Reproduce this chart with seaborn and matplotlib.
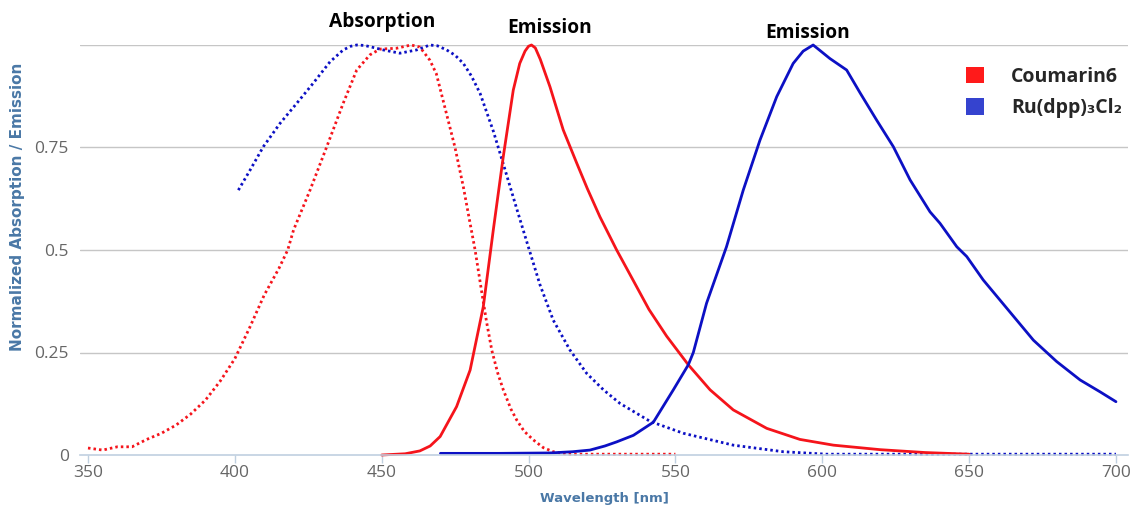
import matplotlib
matplotlib.use("Agg")
import matplotlib.pyplot as plt
from matplotlib.patches import Patch
import seaborn as sns

# Coumarin 6 absorption spectrum (nm, normalized)
coum_abs_wl = [350, 355, 360, 365, 370, 375, 380, 385, 390, 395, 400, 405, 410,
               415, 418, 420, 425.6, 431.3, 436.9, 441.5, 446, 449.4, 455, 460,
               463, 466.4, 468.6, 472, 474.9, 477.8, 480.1, 481.8, 484, 485.7,
               487.5, 489.5, 491.4, 494, 496, 498.5, 501.6, 505, 508.4, 513, 520,
               530, 540, 550]
coum_abs_val = [0.017, 0.012, 0.02, 0.02, 0.038, 0.053, 0.073, 0.10, 0.134, 0.18,
                0.235, 0.31, 0.39, 0.455, 0.5, 0.549, 0.646, 0.752, 0.858, 0.939,
                0.976, 0.99, 0.992, 1.0, 0.995, 0.963, 0.93, 0.834, 0.752, 0.654,
                0.565, 0.5, 0.4, 0.325, 0.255, 0.2, 0.159, 0.112, 0.085, 0.058,
                0.037, 0.018, 0.008, 0.002, 0.002, 0.002, 0.002, 0.002]

# Coumarin 6 emission spectrum
coum_em_wl = [450, 458, 463, 466.5, 469.9, 475.5, 480.1, 484.6, 488, 491.4, 494.8,
              497, 498.8, 500, 501, 502.3, 504, 507.3, 511.8, 516.4, 520, 524.3,
              530, 535.7, 541, 547, 554.4, 561.8, 569.7, 581.1, 592.4, 603.8,
              619.7, 635, 650]
coum_em_val = [0.0, 0.003, 0.01, 0.022, 0.045, 0.118, 0.207, 0.362, 0.549, 0.728,
               0.89, 0.955, 0.985, 0.997, 1.0, 0.993, 0.965, 0.898, 0.793, 0.712,
               0.65, 0.581, 0.5, 0.425, 0.355, 0.29, 0.22, 0.159, 0.11, 0.065,
               0.038, 0.024, 0.013, 0.006, 0.002]

# Ru(dpp)3Cl2 absorption spectrum
ru_abs_wl = [401.2, 405.2, 409.7, 415.4, 421.1, 426.7, 432.4, 436.9, 439.5, 441.5,
             444, 446, 450.5, 456.2, 461.9, 466.4, 469, 472.1, 475, 477.8, 480.5,
             483.5, 488, 491.4, 496, 499.4, 503.9, 508.4, 514.1, 519.8, 525.5,
             531.1, 541.4, 552.7, 569.7, 586.7, 601.5, 620, 650, 675, 700]
ru_abs_val = [0.646, 0.695, 0.752, 0.809, 0.858, 0.907, 0.959, 0.988, 0.997, 1.0,
              0.999, 0.996, 0.988, 0.98, 0.988, 1.0, 0.998, 0.988, 0.975, 0.955,
              0.925, 0.882, 0.79, 0.71, 0.6, 0.52, 0.415, 0.329, 0.256, 0.199,
              0.159, 0.126, 0.082, 0.053, 0.024, 0.008, 0.002, 0.002, 0.002,
              0.002, 0.002]

# Ru(dpp)3Cl2 emission spectrum
ru_em_wl = [470, 490, 507.3, 515, 520.9, 526, 530, 535.7, 542.5, 549.3, 554.4,
            556.1, 560.6, 567.4, 573.1, 578.8, 584.5, 590.1, 593.5, 596.9, 599.5,
            602.6, 608.3, 612.9, 618.5, 624.2, 629.9, 636.7, 640.1, 645.8, 649.2,
            654.8, 660.5, 666.2, 671.9, 679.8, 687.8, 694.6, 700]
ru_em_val = [0.004, 0.004, 0.005, 0.008, 0.012, 0.022, 0.032, 0.048, 0.08, 0.159,
             0.22, 0.25, 0.37, 0.508, 0.646, 0.768, 0.874, 0.955, 0.985, 1.0,
             0.985, 0.967, 0.939, 0.883, 0.817, 0.752, 0.671, 0.593, 0.565,
             0.508, 0.484, 0.427, 0.378, 0.329, 0.28, 0.228, 0.183, 0.154, 0.13]

legend_labels = ["Coumarin6", "Ru(dpp)\u2083Cl\u2082"]
peak_labels = ["Absorption", "Emission", "Emission"]
peak_pos = [(450.1, 1.056), (507.3, 1.041), (595.1, 1.029)]
x_ticks = [350, 400, 450, 500, 550, 600, 650, 700]
y_ticks = [0, 0.25, 0.5, 0.75, 1.0]
y_tick_labels = ["0", "0.25", "0.5", "0.75", ""]

sns.set_theme(style="white")
plt.rcParams["font.family"] = ["Open Sans", "DejaVu Sans"]

RED = "#f5141b"
BLUE = "#0c10c4"
TITLE_BLUE = "#4a78a6"

fig = plt.figure(figsize=(11.34, 5.09), dpi=100)
ax = fig.add_axes([80 / 1134, (509 - 455) / 509, (1128 - 80) / 1134, 410 / 509])

dot = (0, (0.9, 1.1))
sns.lineplot(x=coum_abs_wl, y=coum_abs_val, ax=ax, color=RED, lw=2.0,
             linestyle=dot, clip_on=False)
sns.lineplot(x=ru_abs_wl, y=ru_abs_val, ax=ax, color=BLUE, lw=2.0,
             linestyle=dot, clip_on=False)
sns.lineplot(x=coum_em_wl, y=coum_em_val, ax=ax, color=RED, lw=2.0, clip_on=False)
sns.lineplot(x=ru_em_wl, y=ru_em_val, ax=ax, color=BLUE, lw=2.0, clip_on=False)

ax.set_xlim(347.28, 704.1)
ax.set_ylim(0, 1.0)
ax.set_xticks(x_ticks)
ax.set_xticklabels([str(v) for v in x_ticks])
ax.set_yticks(y_ticks)
ax.set_yticklabels(y_tick_labels)

for y in y_ticks[1:]:
    ax.axhline(y, color="#c6c6c6", lw=1.0, zorder=0)
for s in ["top", "right", "left"]:
    ax.spines[s].set_visible(False)
ax.spines["bottom"].set_color("#c0d0e0")
ax.spines["bottom"].set_linewidth(1.2)

ax.tick_params(axis="x", colors="#c0d0e0", length=6, width=1, direction="out",
               bottom=True, labelcolor="#666666", labelsize=12.5, pad=1)
ax.tick_params(axis="y", length=0, labelcolor="#666666", labelsize=12.5, pad=8)

ax.set_xlabel("Wavelength [nm]", color=TITLE_BLUE, fontsize=9.5,
              fontweight="bold", family="DejaVu Sans", labelpad=8)
ax.set_ylabel("Normalized Absorption / Emission", color=TITLE_BLUE, fontsize=11,
              fontweight="bold", family="DejaVu Sans")
ax.yaxis.label.set_va("center")
ax.yaxis.label.set_ha("center")
ax.yaxis.set_label_coords((18 - 80) / 1048, (455 - 207) / 410)

for label, (px, py) in zip(peak_labels, peak_pos):
    ax.text(px, py, label, ha="center", va="center", fontsize=13.8,
            fontweight="bold", color="black", clip_on=False)

handles = [Patch(facecolor="#ff1a1a", edgecolor="none"),
           Patch(facecolor="#3543cf", edgecolor="none")]
leg = ax.legend(handles, legend_labels, loc="upper left",
                bbox_to_anchor=(948 / 1134, 1 - 49 / 509),
                bbox_transform=fig.transFigure, frameon=False,
                handlelength=0.95, handleheight=0.95, handletextpad=1.4,
                labelspacing=0.6, prop={"weight": "bold", "size": 14,
                                        "family": ["Open Sans", "DejaVu Sans"]})

fig.savefig("out.png", dpi=100)
